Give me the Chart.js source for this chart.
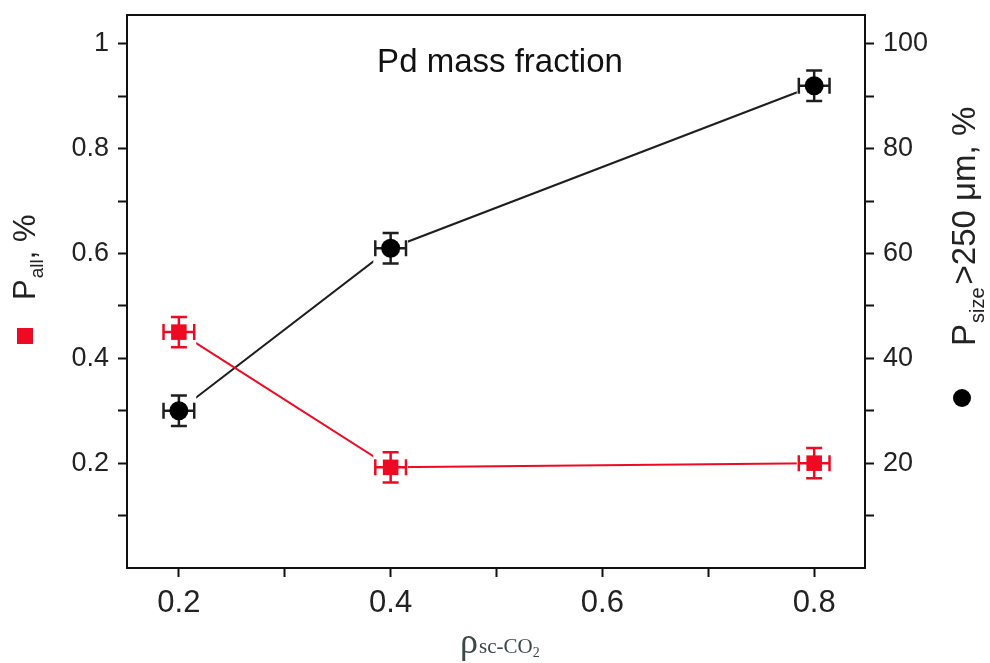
<!DOCTYPE html>
<html><head><meta charset="utf-8">
<script src="https://cdn.jsdelivr.net/npm/chart.js@4/dist/chart.umd.min.js"></script>
<style>html,body{margin:0;padding:0;background:#fff}#wrap{width:990px;height:663px;position:relative}</style>
</head><body><div id="wrap"><canvas id="c" width="990" height="663"></canvas></div>
<script>
// ---- data ----
const densities = [0.2, 0.4, 0.8];
const pAll = [0.45, 0.192, 0.20];          // left axis, red squares
const pSize = [30, 61, 92];                // right axis, black circles
const pAllErr = [0.029, 0.029, 0.029];
const pSizeErr = [2.9, 2.9, 2.9];
const xErr = [0.0145, 0.0145, 0.0145];
const xTickValues = [0.2, 0.3, 0.4, 0.5, 0.6, 0.7, 0.8];
const xTickLabels = ['0.2', '', '0.4', '', '0.6', '', '0.8'];
const yLeftTickValues = [0.1, 0.2, 0.3, 0.4, 0.5, 0.6, 0.7, 0.8, 0.9, 1.0];
const yLeftTickLabels = ['', '0.2', '', '0.4', '', '0.6', '', '0.8', '', '1'];
const yRightTickValues = [10, 20, 30, 40, 50, 60, 70, 80, 90, 100];
const yRightTickLabels = ['', '20', '', '40', '', '60', '', '80', '', '100'];
const chartTitle = 'Pd mass fraction';

const RED = '#ee0a22';
const DARK = '#1e1e1e';
const SANS = "'Liberation Sans', Arial, sans-serif";
const SERIF = "'Liberation Serif', 'Times New Roman', serif";

function labelFor(values, labels, v) {
  for (let i = 0; i < values.length; i++) if (Math.abs(values[i] - v) < 1e-9) return labels[i];
  return '';
}
function noPad(s) { s.paddingTop = 0; s.paddingBottom = 0; s.paddingLeft = 0; s.paddingRight = 0; }

const errPlugin = {
  id: 'errbars',
  afterDatasetDraw(chart, args) {
    const ctx = chart.ctx;
    const meta = args.meta;
    const ds = chart.data.datasets[args.index];
    const ys = chart.scales[meta.yAxisID];
    const xs = chart.scales.x;
    ctx.save();
    meta.data.forEach((pt, j) => {
      const px = pt.x, py = pt.y;
      const xv = densities[j];
      const yv = ds.data[j].y;
      const x1 = xs.getPixelForValue(xv - ds.xerr[j]);
      const x2 = xs.getPixelForValue(xv + ds.xerr[j]);
      const y1 = ys.getPixelForValue(yv + ds.yerr[j]);
      const y2 = ys.getPixelForValue(yv - ds.yerr[j]);
      // white box creates the gap between line and marker
      ctx.fillStyle = '#fff';
      ctx.fillRect(x1 - 2, y1 - 2, (x2 - x1) + 4, (y2 - y1) + 4);
      ctx.strokeStyle = ds.borderColor;
      ctx.lineWidth = 2.5;
      const cap = 8;
      ctx.beginPath();
      ctx.moveTo(px, y1); ctx.lineTo(px, y2);
      ctx.moveTo(px - cap, y1); ctx.lineTo(px + cap, y1);
      ctx.moveTo(px - cap, y2); ctx.lineTo(px + cap, y2);
      ctx.moveTo(x1, py); ctx.lineTo(x2, py);
      ctx.moveTo(x1, py - cap); ctx.lineTo(x1, py + cap);
      ctx.moveTo(x2, py - cap); ctx.lineTo(x2, py + cap);
      ctx.stroke();
      pt.draw(ctx, chart.chartArea);
    });
    ctx.restore();
  }
};

const decorPlugin = {
  id: 'decor',
  afterDraw(chart) {
    const ctx = chart.ctx;
    const a = chart.chartArea;
    ctx.save();
    // frame
    ctx.strokeStyle = '#111';
    ctx.lineWidth = 2;
    ctx.strokeRect(a.left, a.top, a.right - a.left, a.bottom - a.top);
    // title inside plot
    ctx.fillStyle = '#111';
    ctx.font = '33px ' + SANS;
    ctx.textAlign = 'center';
    ctx.textBaseline = 'alphabetic';
    ctx.fillText(chartTitle, 500, 72);

    // left axis title (rotated)
    ctx.save();
    ctx.translate(35, 300);
    ctx.rotate(-Math.PI / 2);
    ctx.textAlign = 'left';
    ctx.fillStyle = '#222';
    ctx.font = '31px ' + SANS;
    ctx.fillText('P', 0, 0);
    let w = ctx.measureText('P').width;
    ctx.font = '19px ' + SANS;
    ctx.fillText('all', w + 1, 8);
    w += ctx.measureText('all').width + 1;
    ctx.font = '31px ' + SANS;
    ctx.fillText(', %', w, 0);
    ctx.restore();
    // red square legend
    ctx.fillStyle = RED;
    ctx.fillRect(17, 328, 16, 16);

    // right axis title (rotated)
    ctx.save();
    ctx.translate(975, 346);
    ctx.rotate(-Math.PI / 2);
    ctx.textAlign = 'left';
    ctx.fillStyle = '#222';
    ctx.font = '33px ' + SANS;
    ctx.fillText('P', 0, 0);
    w = ctx.measureText('P').width;
    ctx.font = '20px ' + SANS;
    ctx.fillText('size', w + 1, 9);
    w += ctx.measureText('size').width + 4;
    ctx.font = '33px ' + SANS;
    ctx.fillText('>250 \u03bcm, %', w, 0);
    ctx.restore();
    // black circle legend
    ctx.fillStyle = '#000';
    ctx.beginPath();
    ctx.arc(962, 398, 9, 0, Math.PI * 2);
    ctx.fill();

    // x axis title
    ctx.fillStyle = '#3b4848';
    ctx.textAlign = 'left';
    ctx.font = '36px ' + SERIF;
    ctx.fillText('\u03c1', 460, 653);
    ctx.font = '21px ' + SERIF;
    ctx.fillText('sc-CO', 479, 653);
    const sw = ctx.measureText('sc-CO').width;
    ctx.font = '14px ' + SERIF;
    ctx.fillText('2', 479 + sw, 657);
    ctx.restore();
  }
};

const tickGrid = { display: true, drawOnChartArea: false, drawTicks: true, tickLength: 9, tickWidth: 2, color: '#111' };

new Chart(document.getElementById('c'), {
  type: 'line',
  data: {
    datasets: [
      {
        label: 'P_all',
        data: densities.map((x, i) => ({ x, y: pAll[i] })),
        yerr: pAllErr, xerr: xErr,
        yAxisID: 'y',
        borderColor: RED, backgroundColor: RED, borderWidth: 2,
        pointStyle: 'rect', pointRadius: 11, pointBorderWidth: 0,
        pointBackgroundColor: RED, tension: 0
      },
      {
        label: 'P_size',
        data: densities.map((x, i) => ({ x, y: pSize[i] })),
        yerr: pSizeErr, xerr: xErr,
        yAxisID: 'y2',
        borderColor: DARK, backgroundColor: '#000', borderWidth: 2,
        pointStyle: 'circle', pointRadius: 9.5, pointBorderWidth: 0,
        pointBackgroundColor: '#000', tension: 0
      }
    ]
  },
  options: {
    responsive: false, animation: false, devicePixelRatio: 1,
    layout: { padding: { top: 15, left: 0, right: 0, bottom: 0 } },
    plugins: { legend: { display: false }, tooltip: { enabled: false }, title: { display: false } },
    scales: {
      x: {
        type: 'linear', min: 0.151, max: 0.848,
        afterBuildTicks: s => { s.ticks = xTickValues.map(v => ({ value: v })); },
        afterFit: s => { s.height = 95; noPad(s); },
        ticks: { autoSkip: false, maxRotation: 0, color: '#222', padding: 8,
          font: { family: SANS, size: 31 },
          callback: v => labelFor(xTickValues, xTickLabels, v) },
        grid: tickGrid, border: { display: false }
      },
      y: {
        type: 'linear', position: 'left', min: 0, max: 1.055,
        afterBuildTicks: s => { s.ticks = yLeftTickValues.map(v => ({ value: v })); },
        afterFit: s => { s.width = 127; noPad(s); },
        ticks: { autoSkip: false, color: '#222', padding: 9,
          font: { family: SANS, size: 27 },
          callback: v => labelFor(yLeftTickValues, yLeftTickLabels, v) },
        grid: tickGrid, border: { display: false }
      },
      y2: {
        type: 'linear', position: 'right', min: 0, max: 105.5,
        afterBuildTicks: s => { s.ticks = yRightTickValues.map(v => ({ value: v })); },
        afterFit: s => { s.width = 125; noPad(s); },
        ticks: { autoSkip: false, color: '#222', padding: 9,
          font: { family: SANS, size: 27 },
          callback: v => labelFor(yRightTickValues, yRightTickLabels, v) },
        grid: tickGrid, border: { display: false }
      }
    }
  },
  plugins: [errPlugin, decorPlugin]
});
</script></body></html>
